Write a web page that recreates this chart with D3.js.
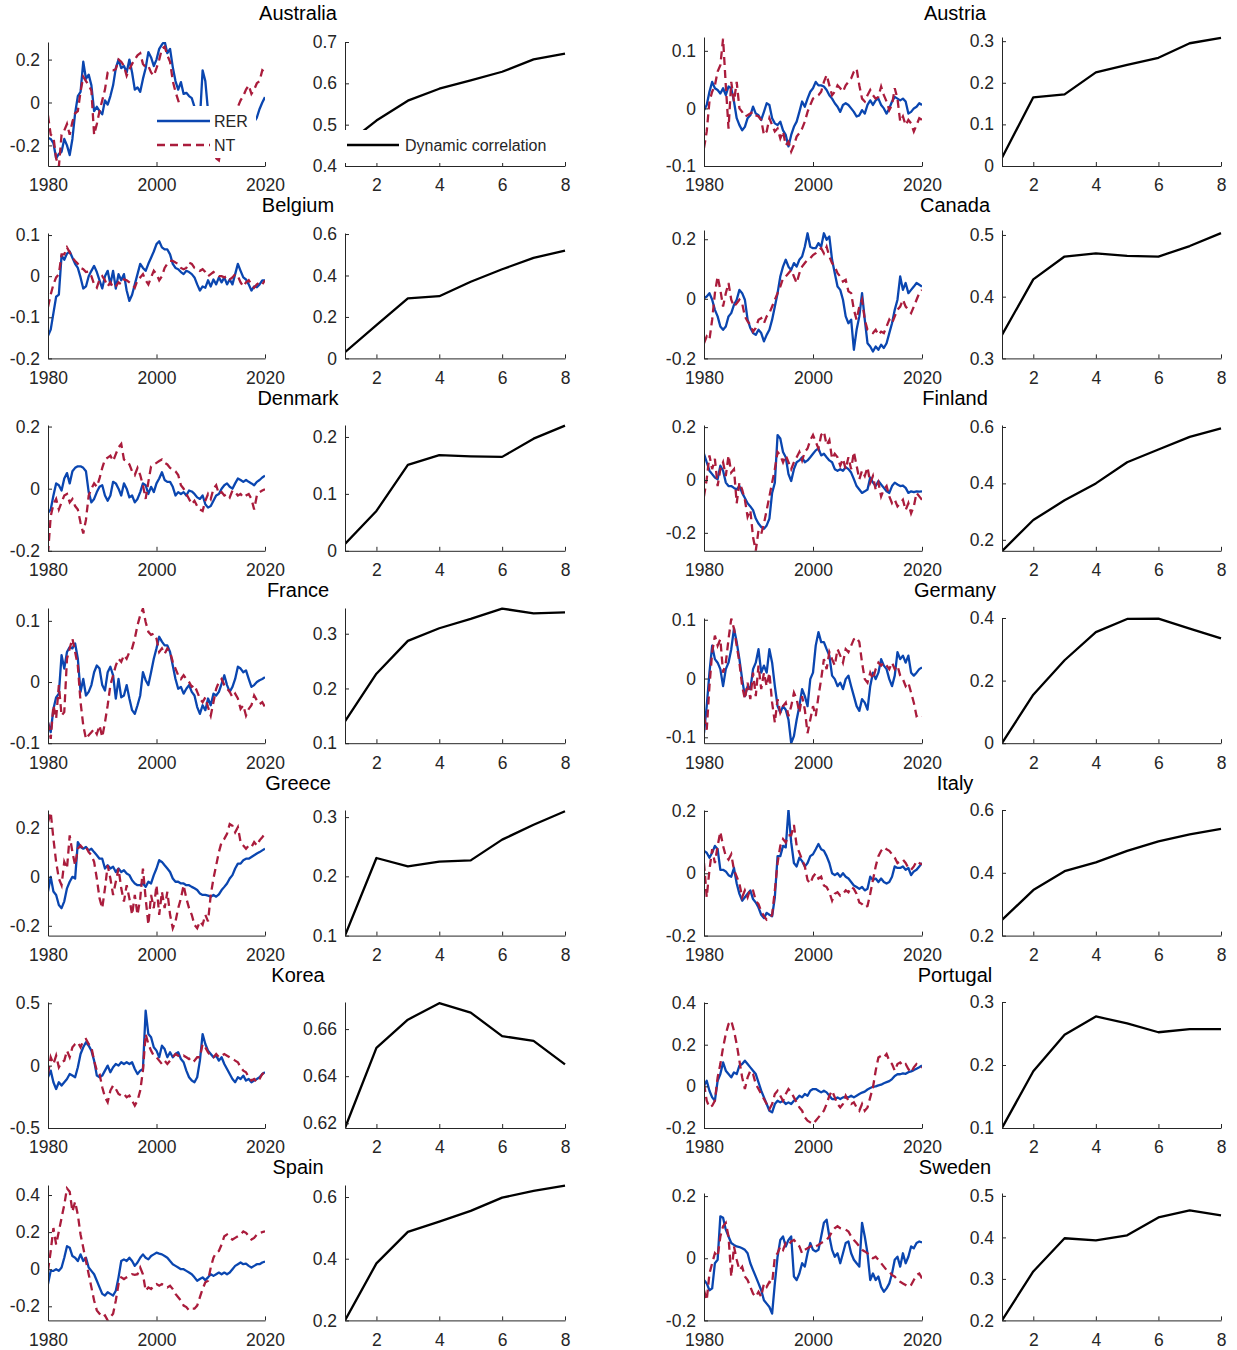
<!DOCTYPE html>
<html><head><meta charset="utf-8">
<script src="https://cdn.jsdelivr.net/npm/d3@7"></script>
<style>
body{margin:0;background:#fff;}
svg{display:block;font-family:"Liberation Sans",Arial,Helvetica,sans-serif;}
</style>
</head><body>
<svg id="chart" width="1237" height="1350"></svg>
<script>
// ---------------- DATA ----------------
const countries = ["Australia","Austria","Belgium","Canada","Denmark","Finland","France","Germany","Greece","Italy","Korea","Portugal","Spain","Sweden"];
const seriesNames = ["RER","NT"];
const horizons = [1,2,3,4,5,6,7,8];
const yearStart = 1980, yearStep = 0.5;
const timeTicks = [1980,2000,2020];
const horizonTicks = [2,4,6,8];

// half-yearly values, 1980.0 ... 2020.0 (81 points)
const rer_Australia = [-0.165,-0.17,-0.19,-0.26,-0.24,-0.23,-0.17,-0.2,-0.245,-0.17,
 -0.05,0.03,0.05,0.19,0.11,0.13,0.08,-0.04,-0.02,-0.04,
 -0.055,0.01,-0.01,0.03,0.08,0.16,0.2,0.16,0.17,0.14,
 0.2,0.14,0.06,0.07,0.05,0.11,0.16,0.235,0.21,0.17,
 0.2,0.25,0.27,0.285,0.23,0.25,0.165,0.1,0.06,0.095,
 0.04,0.045,0.03,0.02,-0.02,-0.06,-0.08,0.15,0.1,-0.04,
 -0.08,-0.1,-0.12,-0.1,-0.09,-0.12,-0.15,-0.13,-0.12,-0.1,
 -0.11,-0.12,-0.1,-0.11,-0.09,-0.1,-0.09,-0.07,-0.03,0.0,
 0.025];
const nt_Australia = [-0.06,-0.15,-0.16,-0.26,-0.3,-0.15,-0.13,-0.1,-0.15,-0.09,
 -0.05,-0.04,0.05,0.12,0.1,0.08,0.055,-0.15,-0.1,-0.04,
 0.01,0.06,0.14,0.15,0.15,0.155,0.2,0.19,0.17,0.125,
 0.155,0.18,0.2,0.22,0.23,0.18,0.165,0.17,0.14,0.125,
 0.16,0.2,0.25,0.26,0.22,0.19,0.1,0.05,0.01,-0.03,
 -0.06,-0.1,-0.14,-0.18,-0.2,-0.22,-0.2,-0.23,-0.24,-0.22,
 -0.24,-0.25,-0.26,-0.27,-0.2,-0.15,-0.1,-0.06,-0.03,-0.02,
 -0.02,0.01,0.03,0.06,0.08,0.04,0.06,0.09,0.1,0.15,
 0.14];
const rer_Belgium = [-0.145,-0.13,-0.09,-0.05,-0.045,0.05,0.04,0.055,0.06,0.045,
 0.03,0.02,-0.003,-0.03,-0.025,0.0,0.013,0.025,0.01,-0.01,
 -0.03,0.0,0.013,-0.02,0.013,-0.03,0.005,-0.01,0.005,-0.035,
 -0.06,-0.045,-0.02,0.005,0.03,0.02,0.013,0.03,0.045,0.06,
 0.078,0.085,0.07,0.065,0.065,0.053,0.03,0.02,0.017,0.01,
 0.005,0.013,0.01,0.005,-0.003,-0.02,-0.035,-0.025,-0.028,-0.01,
 -0.025,-0.008,-0.02,-0.003,-0.015,-0.003,-0.02,-0.008,-0.02,0.005,
 0.03,0.013,-0.003,-0.008,-0.02,-0.035,-0.025,-0.027,-0.02,-0.01,
 -0.01];
const nt_Belgium = [-0.075,-0.045,-0.02,-0.003,0.005,0.053,0.053,0.07,0.058,0.045,
 0.037,0.03,0.02,0.017,0.01,0.011,0.0,-0.02,-0.028,-0.008,
 0.0,-0.01,-0.025,-0.015,-0.028,-0.025,-0.015,-0.02,-0.008,-0.01,
 -0.015,-0.02,-0.028,-0.01,-0.003,0.005,-0.01,-0.02,-0.003,0.013,
 0.005,-0.01,0.0,0.02,0.03,0.037,0.037,0.033,0.03,0.02,
 0.017,0.02,0.033,0.03,0.02,0.017,0.013,0.017,0.01,0.0,
 0.005,0.01,0.005,0.0,0.0,-0.003,0.0,-0.008,-0.003,0.005,
 0.0,-0.015,-0.025,-0.015,-0.01,-0.02,-0.028,-0.02,-0.015,-0.02,
 -0.01];
const rer_Denmark = [-0.078,-0.067,-0.022,0.017,0.011,-0.006,0.033,0.05,0.017,0.056,
 0.067,0.072,0.072,0.067,0.056,-0.011,-0.044,-0.033,-0.011,0.006,
 0.011,-0.022,-0.039,-0.022,0.022,0.017,0.0,-0.022,0.017,0.0,
 -0.028,-0.022,-0.044,-0.033,-0.011,0.017,0.011,-0.017,0.006,-0.011,
 0.017,0.033,0.053,0.028,0.022,0.022,0.006,-0.022,-0.011,-0.017,
 -0.011,-0.022,-0.006,-0.009,-0.017,-0.028,-0.033,-0.022,-0.05,-0.061,
 -0.056,-0.039,-0.022,-0.017,0.0,0.011,0.017,0.006,0.0,0.017,
 0.033,0.028,0.022,0.028,0.022,0.017,0.011,0.022,0.028,0.036,
 0.042];
const nt_Denmark = [-0.21,-0.089,-0.05,-0.033,-0.067,-0.044,-0.022,-0.017,-0.044,-0.033,
 -0.056,-0.067,-0.11,-0.144,-0.1,-0.022,0.0,0.017,0.006,0.033,
 0.067,0.094,0.1,0.106,0.089,0.111,0.133,0.144,0.094,0.089,
 0.078,0.056,0.044,0.067,0.044,0.011,-0.033,0.022,0.072,0.078,
 0.083,0.089,0.094,0.083,0.078,0.067,0.061,0.056,0.044,0.011,
 0.0,-0.017,-0.033,-0.05,-0.039,-0.056,-0.067,-0.072,-0.039,-0.017,
 -0.033,0.0,0.011,-0.017,-0.011,-0.022,-0.017,-0.028,-0.006,-0.011,
 -0.022,-0.017,-0.028,-0.022,-0.017,-0.033,-0.067,-0.022,-0.011,-0.006,
 -0.002];
const rer_France = [-0.066,-0.082,-0.044,-0.025,-0.019,0.044,0.022,0.049,0.057,0.055,
 0.063,0.038,-0.016,0.005,-0.022,-0.016,-0.005,0.016,0.027,0.022,
 -0.005,-0.014,0.016,0.025,0.011,-0.027,0.005,-0.025,-0.022,-0.005,
 -0.027,-0.046,-0.052,-0.038,-0.022,0.016,0.003,-0.005,0.016,0.038,
 0.055,0.074,0.066,0.06,0.06,0.049,0.027,0.005,-0.011,-0.008,
 -0.019,-0.011,-0.005,-0.016,-0.022,-0.041,-0.052,-0.038,-0.046,-0.027,
 -0.038,-0.019,-0.022,-0.016,-0.003,0.011,-0.005,-0.016,-0.008,0.005,
 0.025,0.022,0.016,0.019,0.005,-0.008,-0.005,0.0,0.003,0.005,
 0.008];
const nt_France = [-0.066,-0.093,-0.038,-0.06,-0.005,-0.055,-0.049,0.038,0.055,0.071,
 0.049,0.027,-0.033,-0.071,-0.093,-0.087,-0.082,-0.077,-0.085,-0.071,
 -0.09,-0.066,-0.038,-0.005,0.011,0.027,0.038,0.033,0.044,0.038,
 0.049,0.055,0.071,0.093,0.109,0.12,0.098,0.082,0.077,0.079,
 0.071,0.049,0.055,0.046,0.055,0.049,0.033,0.022,0.011,0.005,
 0.011,0.005,0.0,-0.008,-0.005,-0.016,-0.027,-0.033,-0.025,-0.041,
 -0.055,-0.033,-0.011,0.0,0.005,-0.005,-0.011,-0.016,-0.025,-0.019,
 -0.027,-0.044,-0.038,-0.055,-0.044,-0.038,-0.022,-0.03,-0.036,-0.033,
 -0.041];
const rer_Greece = [-0.06,0.0,-0.06,-0.074,-0.115,-0.128,-0.1,-0.047,-0.02,0.0,
 -0.007,0.142,0.122,0.115,0.122,0.108,0.115,0.101,0.088,0.074,
 0.074,0.034,0.047,0.034,0.041,0.02,0.034,0.02,0.027,0.014,
 0.007,-0.014,-0.027,-0.034,-0.034,-0.027,-0.041,-0.02,-0.027,0.007,
 0.034,0.068,0.061,0.047,0.034,0.02,-0.007,-0.02,-0.02,-0.027,
 -0.027,-0.034,-0.034,-0.041,-0.047,-0.054,-0.068,-0.074,-0.074,-0.077,
 -0.081,-0.074,-0.081,-0.072,-0.054,-0.041,-0.027,-0.007,0.007,0.034,
 0.054,0.054,0.068,0.074,0.074,0.081,0.088,0.095,0.101,0.108,
 0.115];
const nt_Greece = [0.223,0.264,0.155,0.061,-0.007,-0.034,0.061,0.034,0.169,0.101,
 0.047,0.115,0.128,0.115,0.122,0.101,0.088,0.061,-0.007,-0.088,
 -0.128,-0.047,0.047,-0.007,-0.074,-0.02,0.034,-0.047,-0.101,-0.034,
 -0.088,-0.155,-0.074,-0.155,-0.088,0.034,-0.088,-0.196,-0.074,-0.128,
 -0.034,-0.155,-0.061,-0.128,-0.061,-0.155,-0.21,-0.182,-0.128,-0.088,
 -0.034,-0.088,-0.128,-0.155,-0.196,-0.21,-0.182,-0.196,-0.155,-0.182,
 -0.074,-0.007,0.047,0.101,0.142,0.155,0.176,0.216,0.209,0.182,
 0.203,0.142,0.128,0.115,0.128,0.122,0.142,0.128,0.149,0.162,
 0.176];
const rer_Korea = [-0.093,-0.04,-0.133,-0.187,-0.133,-0.16,-0.133,-0.107,-0.067,-0.08,
 -0.093,-0.013,0.093,0.147,0.187,0.16,0.12,0.04,-0.08,-0.093,
 -0.08,-0.04,0.0,-0.053,-0.013,0.013,0.0,0.027,0.013,0.027,
 0.013,0.027,-0.027,-0.067,-0.04,-0.027,0.44,0.253,0.227,0.147,
 0.12,0.067,0.16,0.133,0.067,0.107,0.067,0.093,0.107,0.053,
 0.027,-0.04,-0.093,-0.12,-0.133,-0.093,0.04,0.253,0.173,0.12,
 0.093,0.067,0.08,0.04,0.067,0.013,-0.027,-0.067,-0.107,-0.133,
 -0.093,-0.107,-0.08,-0.12,-0.107,-0.133,-0.12,-0.107,-0.093,-0.067,
 -0.053];
const nt_Korea = [-0.067,0.067,0.013,0.08,-0.013,0.027,0.04,0.12,0.067,0.147,
 0.173,0.187,0.147,0.2,0.213,0.173,0.147,0.04,-0.04,-0.067,
 -0.173,-0.253,-0.293,-0.2,-0.16,-0.187,-0.227,-0.24,-0.227,-0.253,
 -0.24,-0.28,-0.32,-0.28,-0.2,-0.04,0.253,0.173,0.12,0.08,
 0.067,0.04,0.013,0.04,0.013,0.04,0.067,0.093,0.08,0.067,
 0.08,0.067,0.053,0.067,0.04,0.067,0.067,0.173,0.147,0.107,
 0.08,0.067,0.093,0.067,0.08,0.093,0.08,0.067,0.053,0.04,
 0.027,-0.013,-0.04,-0.053,-0.093,-0.12,-0.107,-0.133,-0.107,-0.067,
 -0.053];
const rer_Spain = [-0.08,-0.009,-0.009,0.0,-0.009,0.009,0.062,0.124,0.116,0.071,
 0.062,0.044,0.08,0.044,0.062,0.009,-0.009,-0.027,-0.062,-0.098,
 -0.133,-0.142,-0.124,-0.133,-0.142,-0.116,-0.044,0.044,0.053,0.044,
 0.062,0.044,0.018,0.036,0.062,0.08,0.062,0.053,0.071,0.08,
 0.089,0.084,0.08,0.071,0.062,0.044,0.027,0.018,0.009,0.0,
 0.0,-0.009,-0.018,-0.027,-0.044,-0.062,-0.053,-0.044,-0.059,-0.044,
 -0.027,-0.036,-0.027,-0.018,-0.027,-0.018,-0.027,-0.018,0.0,0.018,
 0.027,0.036,0.027,0.03,0.018,0.009,0.018,0.027,0.027,0.036,
 0.041];
const nt_Spain = [-0.009,0.098,0.222,0.133,0.204,0.276,0.347,0.436,0.418,0.311,
 0.364,0.293,0.187,0.116,0.044,-0.027,-0.098,-0.169,-0.222,-0.24,
 -0.258,-0.249,-0.276,-0.258,-0.24,-0.169,-0.08,-0.044,-0.053,-0.044,
 -0.036,-0.027,-0.03,-0.027,0.009,-0.027,-0.116,-0.098,-0.107,-0.089,
 -0.08,-0.089,-0.08,-0.089,-0.098,-0.089,-0.107,-0.133,-0.151,-0.169,
 -0.196,-0.204,-0.222,-0.213,-0.213,-0.196,-0.151,-0.107,-0.071,-0.062,
 0.009,0.062,0.089,0.098,0.133,0.178,0.187,0.169,0.16,0.169,
 0.178,0.187,0.204,0.196,0.178,0.16,0.169,0.187,0.196,0.2,
 0.204];
const rer_Austria = [-0.003,0.006,0.029,0.046,0.035,0.032,0.026,0.035,0.023,0.038,
 0.035,0.012,-0.017,-0.029,-0.038,-0.032,-0.017,-0.012,0.003,-0.009,
 -0.012,-0.02,-0.006,0.009,0.006,-0.017,-0.026,-0.029,-0.023,-0.038,
 -0.046,-0.066,-0.046,-0.032,-0.023,-0.006,0.012,0.003,0.017,0.029,
 0.035,0.046,0.04,0.04,0.038,0.032,0.023,0.017,0.009,0.003,
 -0.006,0.006,0.009,0.006,0.0,-0.006,-0.014,-0.012,-0.003,-0.009,
 0.006,0.014,0.006,0.014,0.017,0.006,0.0,-0.009,0.0,0.012,
 0.02,0.017,0.014,0.017,0.012,-0.009,-0.006,0.0,0.003,0.009,
 0.006];
const nt_Austria = [-0.069,-0.04,0.012,0.029,0.04,0.064,0.075,0.121,0.04,-0.035,
 0.046,0.012,0.046,0.0,-0.006,-0.014,-0.012,-0.009,-0.006,-0.012,
 -0.014,-0.02,-0.046,-0.04,-0.017,-0.029,-0.04,-0.035,-0.052,-0.04,
 -0.064,-0.058,-0.075,-0.064,-0.049,-0.043,-0.035,-0.023,-0.006,0.006,
 0.017,0.02,0.023,0.029,0.046,0.058,0.04,0.023,0.029,0.04,
 0.035,0.029,0.04,0.046,0.052,0.064,0.069,0.04,0.017,0.012,
 0.023,0.032,0.023,0.017,0.02,0.038,0.023,0.012,-0.003,0.006,
 0.035,0.017,-0.023,-0.014,-0.029,-0.02,-0.026,-0.04,-0.029,-0.017,
 -0.02];
const rer_Canada = [0.002,0.008,0.019,-0.003,-0.037,-0.059,-0.093,-0.104,-0.093,-0.059,
 -0.048,-0.02,-0.003,0.03,0.019,-0.003,-0.07,-0.098,-0.115,-0.121,
 -0.104,-0.115,-0.143,-0.121,-0.104,-0.07,-0.026,0.019,0.075,0.108,
 0.131,0.108,0.097,0.12,0.108,0.131,0.142,0.175,0.22,0.175,
 0.17,0.17,0.187,0.175,0.22,0.198,0.209,0.131,0.086,0.041,
 0.03,-0.003,-0.059,-0.082,-0.07,-0.171,-0.104,-0.059,0.019,-0.07,
 -0.149,-0.16,-0.177,-0.16,-0.171,-0.154,-0.165,-0.149,-0.115,-0.082,
 -0.037,-0.003,0.075,0.03,0.053,0.019,0.03,0.041,0.053,0.047,
 0.041];
const nt_Canada = [-0.149,-0.126,-0.137,-0.07,0.019,0.075,0.03,-0.026,0.019,0.053,
 -0.003,-0.026,-0.015,-0.003,-0.015,-0.059,-0.076,-0.087,-0.11,-0.098,
 -0.07,-0.065,-0.082,-0.059,-0.048,-0.026,-0.003,0.019,0.041,0.069,
 0.075,0.086,0.097,0.075,0.053,0.086,0.108,0.12,0.131,0.136,
 0.147,0.153,0.164,0.17,0.153,0.175,0.142,0.12,0.108,0.086,
 0.075,0.058,0.064,0.025,0.019,-0.037,-0.07,-0.026,-0.003,-0.07,
 -0.104,-0.11,-0.115,-0.104,-0.121,-0.11,-0.115,-0.093,-0.07,-0.082,
 -0.059,-0.037,-0.026,-0.003,-0.026,-0.037,-0.048,-0.026,-0.003,0.019,
 0.03];
const rer_Finland = [0.099,0.067,0.035,0.022,0.009,0.003,0.054,0.035,-0.01,-0.023,
 -0.023,-0.03,-0.036,-0.023,-0.049,-0.068,-0.088,-0.1,-0.114,-0.146,
 -0.165,-0.178,-0.185,-0.172,-0.146,-0.049,-0.01,0.17,0.157,0.106,
 0.086,0.022,-0.004,0.041,0.067,0.074,0.086,0.067,0.074,0.086,
 0.099,0.112,0.119,0.093,0.099,0.086,0.074,0.067,0.041,0.035,
 0.041,0.035,0.048,0.041,0.028,0.003,-0.023,-0.036,-0.049,-0.043,
 -0.036,0.009,-0.01,-0.023,-0.004,-0.017,-0.03,-0.043,-0.049,-0.023,
 -0.01,-0.017,-0.023,-0.021,-0.03,-0.049,-0.043,-0.046,-0.043,-0.044,
 -0.043];
const nt_Finland = [-0.062,0.003,0.093,0.041,0.08,-0.023,0.041,0.067,0.015,0.093,
 0.028,0.041,-0.088,-0.01,-0.036,-0.075,-0.139,-0.114,-0.217,-0.268,
 -0.191,-0.204,-0.165,-0.114,-0.062,-0.01,0.041,0.106,0.093,0.067,
 0.093,0.067,0.041,0.067,0.086,0.106,0.074,0.106,0.119,0.151,
 0.17,0.145,0.119,0.17,0.183,0.132,0.151,0.08,0.099,0.086,
 0.054,0.08,0.041,0.086,0.041,0.106,0.054,0.003,0.035,0.015,
 0.048,-0.01,0.015,-0.036,-0.01,-0.062,-0.036,-0.023,-0.062,-0.088,
 -0.075,-0.1,-0.088,-0.075,-0.114,-0.088,-0.126,-0.1,-0.049,-0.062,
 -0.075];
const rer_Germany = [-0.093,-0.047,0.01,0.056,0.033,0.027,0.016,-0.013,0.016,0.027,
 0.05,0.085,0.062,0.033,-0.001,-0.03,-0.013,-0.018,0.016,0.027,
 0.05,0.01,0.022,0.01,0.05,0.027,-0.013,-0.047,-0.058,-0.047,
 -0.053,-0.07,-0.11,-0.098,-0.07,-0.047,-0.018,-0.03,-0.047,-0.001,
 0.01,0.056,0.079,0.062,0.062,0.05,0.039,0.005,-0.001,-0.013,
 -0.007,-0.018,-0.001,0.005,-0.013,-0.03,-0.047,-0.055,-0.035,-0.041,
 -0.053,-0.013,0.01,-0.001,0.01,0.033,0.022,0.016,-0.001,-0.013,
 0.005,0.045,0.033,0.039,0.027,0.039,0.01,0.005,0.01,0.016,
 0.019];
const nt_Germany = [-0.064,-0.087,-0.013,0.045,0.073,0.056,0.067,0.01,0.027,0.067,
 0.102,0.085,0.056,0.027,-0.013,-0.035,-0.007,-0.035,0.01,-0.03,
 0.022,-0.018,0.01,-0.013,0.01,-0.041,-0.075,-0.035,-0.058,-0.047,
 -0.041,-0.064,-0.047,-0.024,-0.035,-0.058,-0.03,-0.053,-0.093,-0.07,
 -0.047,-0.064,-0.03,-0.001,0.033,0.016,0.045,0.033,0.022,0.05,
 0.039,0.027,0.05,0.045,0.056,0.067,0.07,0.062,0.027,-0.001,
 -0.007,0.01,-0.001,0.016,0.027,0.022,0.027,0.022,0.016,0.027,
 0.016,0.022,0.005,-0.001,-0.013,-0.007,-0.024,-0.041,-0.064,-0.061,
 -0.064];
const rer_Italy = [0.072,0.066,0.05,0.066,0.088,0.077,0.011,0.011,0.006,-0.006,
 -0.011,0.017,-0.033,-0.066,-0.088,-0.077,-0.066,-0.055,-0.083,-0.094,
 -0.11,-0.133,-0.144,-0.127,-0.133,-0.138,-0.077,0.055,0.055,0.088,
 0.083,0.204,0.099,0.033,0.022,0.05,0.039,0.022,0.033,0.055,
 0.061,0.077,0.094,0.077,0.072,0.055,0.033,0.0,-0.006,0.0,
 -0.011,0.0,-0.011,-0.017,-0.028,-0.039,-0.044,-0.05,-0.044,-0.055,
 -0.05,-0.011,-0.022,-0.017,-0.028,-0.017,-0.028,-0.033,-0.028,-0.011,
 0.022,0.017,0.017,0.022,0.011,0.017,-0.006,0.006,0.011,0.022,
 0.033];
const nt_Italy = [0.033,-0.077,0.011,0.077,0.033,0.088,0.133,0.088,0.055,0.044,
 0.061,0.011,-0.011,-0.033,-0.077,-0.055,-0.077,-0.05,-0.055,-0.088,
 -0.099,-0.122,-0.138,-0.149,-0.144,-0.133,-0.055,0.033,0.088,0.11,
 0.099,0.122,0.122,0.155,0.088,0.066,0.044,0.022,-0.022,-0.033,
 -0.011,0.0,-0.017,-0.011,-0.039,-0.044,-0.061,-0.088,-0.066,-0.061,
 -0.072,-0.066,-0.055,-0.061,-0.044,-0.05,-0.066,-0.094,-0.099,-0.11,
 -0.105,-0.066,-0.022,0.022,0.055,0.072,0.083,0.077,0.072,0.061,
 0.05,0.033,0.039,0.044,0.033,0.017,0.011,0.022,0.039,0.033,
 0.028];
const rer_Portugal = [0.003,0.027,-0.021,-0.053,-0.069,0.027,0.059,0.115,0.075,0.059,
 0.043,0.067,0.059,0.099,0.107,0.123,0.107,0.091,0.075,0.059,
 0.019,-0.021,-0.053,-0.085,-0.117,-0.125,-0.085,-0.069,-0.077,-0.069,
 -0.085,-0.077,-0.085,-0.069,-0.061,-0.045,-0.053,-0.037,-0.045,-0.021,
 -0.013,-0.013,-0.021,-0.029,-0.021,-0.029,-0.045,-0.061,-0.061,-0.053,
 -0.061,-0.053,-0.05,-0.053,-0.045,-0.053,-0.045,-0.037,-0.03,-0.025,
 -0.015,-0.008,-0.002,0.0,0.005,0.008,0.015,0.02,0.025,0.035,
 0.05,0.058,0.058,0.062,0.06,0.068,0.072,0.078,0.085,0.092,
 0.1];
const nt_Portugal = [0.011,-0.069,-0.101,-0.093,-0.069,0.043,0.107,0.187,0.251,0.299,
 0.315,0.267,0.203,0.123,0.043,-0.013,0.043,0.075,0.059,0.011,
 -0.013,-0.037,-0.061,-0.085,-0.109,-0.085,-0.037,-0.021,-0.045,-0.069,
 -0.037,-0.013,-0.029,-0.053,-0.077,-0.101,-0.117,-0.149,-0.165,-0.173,
 -0.181,-0.165,-0.149,-0.133,-0.117,-0.085,-0.045,-0.021,-0.053,-0.085,
 -0.101,-0.085,-0.045,-0.069,-0.085,-0.077,-0.101,-0.117,-0.085,-0.117,
 -0.101,-0.053,-0.005,0.075,0.139,0.147,0.139,0.155,0.123,0.107,
 0.075,0.107,0.115,0.099,0.107,0.083,0.067,0.091,0.107,0.099,
 0.091];
const rer_Sweden = [-0.07,-0.081,-0.103,-0.097,-0.016,-0.005,0.135,0.13,0.092,0.07,
 0.049,0.043,0.038,0.036,0.032,0.027,0.016,-0.016,-0.038,-0.059,
 -0.081,-0.103,-0.135,-0.146,-0.157,-0.178,-0.081,0.005,0.059,0.07,
 0.038,0.059,0.07,-0.059,-0.07,-0.049,-0.016,-0.027,0.016,0.049,
 0.027,0.022,0.027,0.07,0.114,0.124,0.07,0.027,0.005,0.016,
 -0.016,0.016,0.049,0.054,0.016,-0.005,-0.016,-0.027,0.114,0.07,
 0.016,-0.07,-0.049,-0.07,-0.059,-0.092,-0.108,-0.097,-0.081,-0.049,
 -0.005,0.005,-0.027,0.016,-0.016,0.005,0.038,0.032,0.049,0.054,
 0.051];
const nt_Sweden = [-0.103,-0.135,-0.049,-0.016,0.016,0.005,0.07,0.103,0.114,0.07,
 -0.059,0.038,-0.005,-0.038,-0.027,-0.059,-0.07,-0.092,-0.114,-0.124,
 -0.108,-0.124,-0.081,-0.092,-0.076,-0.081,0.005,0.016,0.038,0.027,
 0.049,0.043,0.054,0.059,0.049,0.038,0.016,0.027,0.032,0.038,
 0.043,0.038,0.043,0.049,0.054,0.059,0.07,0.086,0.097,0.103,
 0.097,0.094,0.092,0.086,0.07,0.059,0.049,0.038,0.027,0.022,
 0.016,0.005,0.0,0.005,-0.005,-0.016,-0.027,-0.038,-0.043,-0.054,
 -0.059,-0.07,-0.076,-0.081,-0.086,-0.092,-0.086,-0.07,-0.054,-0.049,
 -0.065];

// dynamic correlation by horizon 1..8
const corr_Australia = [0.45,0.51,0.558,0.587,0.607,0.628,0.658,0.672];
const corr_Austria   = [0.02,0.165,0.172,0.225,0.243,0.26,0.295,0.308];
const corr_Belgium   = [0.03,0.16,0.29,0.30,0.37,0.43,0.485,0.52];
const corr_Canada    = [0.338,0.428,0.465,0.47,0.466,0.465,0.482,0.503];
const corr_Denmark   = [0.012,0.07,0.151,0.168,0.166,0.165,0.197,0.22];
const corr_Finland   = [0.16,0.27,0.34,0.40,0.475,0.52,0.565,0.595];
const corr_France    = [0.14,0.227,0.287,0.31,0.327,0.346,0.337,0.339];
const corr_Germany   = [0.0,0.155,0.265,0.355,0.397,0.398,0.366,0.335];
const corr_Greece    = [0.10,0.231,0.217,0.225,0.227,0.262,0.287,0.31];
const corr_Italy     = [0.25,0.345,0.405,0.433,0.47,0.50,0.522,0.54];
const corr_Korea     = [0.618,0.652,0.664,0.671,0.667,0.657,0.655,0.645];
const corr_Portugal  = [0.10,0.19,0.248,0.277,0.266,0.252,0.257,0.257];
const corr_Spain     = [0.2,0.385,0.487,0.52,0.555,0.598,0.62,0.637];
const corr_Sweden    = [0.2,0.318,0.398,0.393,0.405,0.448,0.465,0.453];

// axis limits and tick values per panel
const tsLimits = [[-0.296,0.282],[-0.1,0.124],[-0.2,0.105],[-0.2,0.231],[-0.2,0.205],[-0.268,0.208],[-0.1,0.121],[-0.11,0.103],[-0.24,0.273],[-0.2,0.203],[-0.5,0.51],[-0.2,0.405],[-0.276,0.454],[-0.2,0.21]];
const tsTicks = [[-0.2,0,0.2],[-0.1,0,0.1],[-0.2,-0.1,0,0.1],[-0.2,0,0.2],[-0.2,0,0.2],[-0.2,0,0.2],[-0.1,0,0.1],[-0.1,0,0.1],[-0.2,0,0.2],[-0.2,0,0.2],[-0.5,0,0.5],[-0.2,0,0.2,0.4],[-0.2,0,0.2,0.4],[-0.2,0,0.2]];
const corrLimits = [[0.4,0.7],[0,0.31],[0,0.605],[0.3,0.508],[0,0.221],[0.161,0.607],[0.1,0.347],[0,0.4],[0.1,0.312],[0.2,0.6],[0.618,0.6715],[0.1,0.3],[0.2,0.639],[0.2,0.507]];
const corrTicks = [[0.4,0.5,0.6,0.7],[0,0.1,0.2,0.3],[0,0.2,0.4,0.6],[0.3,0.4,0.5],[0,0.1,0.2],[0.2,0.4,0.6],[0.1,0.2,0.3],[0,0.2,0.4],[0.1,0.2,0.3],[0.2,0.4,0.6],[0.62,0.64,0.66],[0.1,0.2,0.3],[0.2,0.4,0.6],[0.2,0.3,0.4,0.5]];

// tables built from the arrays above
const rerTable = {Australia:rer_Australia,Austria:rer_Austria,Belgium:rer_Belgium,Canada:rer_Canada,Denmark:rer_Denmark,Finland:rer_Finland,France:rer_France,Germany:rer_Germany,Greece:rer_Greece,Italy:rer_Italy,Korea:rer_Korea,Portugal:rer_Portugal,Spain:rer_Spain,Sweden:rer_Sweden};
const ntTable = {Australia:nt_Australia,Austria:nt_Austria,Belgium:nt_Belgium,Canada:nt_Canada,Denmark:nt_Denmark,Finland:nt_Finland,France:nt_France,Germany:nt_Germany,Greece:nt_Greece,Italy:nt_Italy,Korea:nt_Korea,Portugal:nt_Portugal,Spain:nt_Spain,Sweden:nt_Sweden};
const corrTable = {Australia:corr_Australia,Austria:corr_Austria,Belgium:corr_Belgium,Canada:corr_Canada,Denmark:corr_Denmark,Finland:corr_Finland,France:corr_France,Germany:corr_Germany,Greece:corr_Greece,Italy:corr_Italy,Korea:corr_Korea,Portugal:corr_Portugal,Spain:corr_Spain,Sweden:corr_Sweden};

// ---------------- LAYOUT ----------------
const colLayout = [
  {tsL:48, tsR:265, cL:345, cR:565, titleX:298},
  {tsL:704, tsR:922, cL:1002, cR:1221, titleX:955}
];
const panelTops = [42,37,233,230,425,425,608,618,810,810,1002,1002,1185,1193];
const rowBottom0 = 166, rowStep = 192.4, titleY0 = 20;
const COL_RER = "#0a46b0", COL_NT = "#aa1c3c", AXIS = "#262626";
const TICK_FONT = 17.5;

const svg = d3.select("#chart");
svg.append("rect").attr("width",1237).attr("height",1350).attr("fill","#fff");
const fmt = v => String(+v.toFixed(3));

function styleAxis(g){
  g.selectAll(".domain").attr("stroke",AXIS).attr("stroke-width",1);
  g.selectAll(".tick line").attr("stroke",AXIS).attr("stroke-width",1);
  g.selectAll(".tick text").attr("fill",AXIS).style("font-size",TICK_FONT+"px")
   .style("font-family",'"Liberation Sans",Arial,Helvetica,sans-serif');
  g.attr("font-family",null).attr("font-size",null);
}

function drawAxes(g, x, y, xTicks, yTicks, top, bottom){
  const gx = g.append("g").attr("transform",`translate(0,${bottom})`)
    .call(d3.axisBottom(x).tickValues(xTicks).tickSize(-4).tickSizeOuter(0).tickPadding(13).tickFormat(d3.format("d")));
  styleAxis(gx);
  const gy = g.append("g").attr("transform",`translate(${x.range()[0]},0)`)
    .call(d3.axisLeft(y).tickValues(yTicks).tickSize(-4).tickSizeOuter(0).tickPadding(8).tickFormat(fmt));
  styleAxis(gy);
}

countries.forEach((name,k)=>{
  const row = Math.floor(k/2), col = k%2;
  const L = colLayout[col];
  const top = panelTops[k], bottom = rowBottom0 + rowStep*row;
  const g = svg.append("g");

  // title
  g.append("text").attr("x",L.titleX).attr("y",titleY0 + rowStep*row)
    .attr("text-anchor","middle").attr("fill","#000").style("font-size","20px").text(name);

  // ---- time series panel ----
  const x = d3.scaleLinear().domain([1980,2020]).range([L.tsL,L.tsR]);
  const y = d3.scaleLinear().domain(tsLimits[k]).range([bottom,top]);
  const clipId = "clipTs"+k;
  svg.append("clipPath").attr("id",clipId).append("rect")
    .attr("x",L.tsL).attr("y",top).attr("width",L.tsR-L.tsL).attr("height",bottom-top);
  const line = d3.line().defined(d=>d!=null).x((d,i)=>x(yearStart+i*yearStep)).y(d=>y(d));
  const lg = g.append("g").attr("clip-path",`url(#${clipId})`);
  lg.append("path").attr("d",line(rerTable[name])).attr("fill","none")
    .attr("stroke",COL_RER).attr("stroke-width",2.3).attr("stroke-linejoin","round");
  lg.append("path").attr("d",line(ntTable[name])).attr("fill","none")
    .attr("stroke",COL_NT).attr("stroke-width",2.3).attr("stroke-dasharray","8,5");
  drawAxes(g, x, y, timeTicks, tsTicks[k], top, bottom);

  // ---- dynamic correlation panel ----
  const xc = d3.scaleLinear().domain([1,8]).range([L.cL,L.cR]);
  const yc = d3.scaleLinear().domain(corrLimits[k]).range([bottom,top]);
  const clipId2 = "clipC"+k;
  svg.append("clipPath").attr("id",clipId2).append("rect")
    .attr("x",L.cL).attr("y",top-1).attr("width",L.cR-L.cL+1).attr("height",bottom-top+2);
  const cline = d3.line().x((d,i)=>xc(horizons[i])).y(d=>yc(d));
  g.append("g").attr("clip-path",`url(#${clipId2})`).append("path")
    .attr("d",cline(corrTable[name])).attr("fill","none").attr("stroke","#000")
    .attr("stroke-width",2.3).attr("stroke-linejoin","round");
  drawAxes(g, xc, yc, horizonTicks, corrTicks[k], top, bottom);

  // ---- legends (first country only) ----
  if(k===0){
    const lg1 = g.append("g");
    lg1.append("rect").attr("x",153).attr("y",106).attr("width",103).attr("height",52).attr("fill","#fff");
    lg1.append("line").attr("x1",157).attr("x2",210).attr("y1",121).attr("y2",121)
      .attr("stroke",COL_RER).attr("stroke-width",2.3);
    lg1.append("line").attr("x1",157).attr("x2",210).attr("y1",145).attr("y2",145)
      .attr("stroke",COL_NT).attr("stroke-width",2.3).attr("stroke-dasharray","8,5");
    lg1.append("text").attr("x",214).attr("y",127).attr("fill",AXIS).style("font-size","16px").text(seriesNames[0]);
    lg1.append("text").attr("x",214).attr("y",151).attr("fill",AXIS).style("font-size","16px").text(seriesNames[1]);

    const lg2 = g.append("g");
    lg2.append("rect").attr("x",342).attr("y",130).attr("width",210).attr("height",33).attr("fill","#fff");
    lg2.append("line").attr("x1",347).attr("x2",399).attr("y1",145).attr("y2",145)
      .attr("stroke","#000").attr("stroke-width",2.3);
    lg2.append("text").attr("x",405).attr("y",151).attr("fill",AXIS).style("font-size","16px").text("Dynamic correlation");
  }
});
</script>
</body></html>
